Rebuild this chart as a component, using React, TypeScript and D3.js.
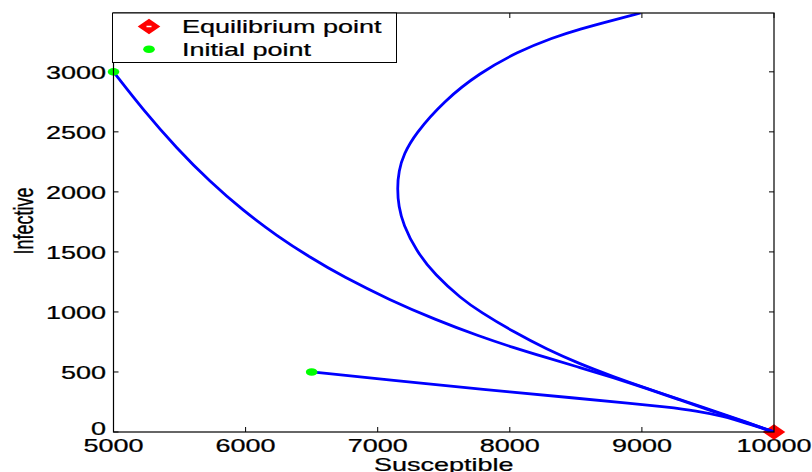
import React from 'react';
import * as d3 from 'd3';

// trajectories (Susceptible, Infective)
const pathAS = [5000, 5223, 5481, 5731, 5980, 6238, 6488, 6737, 7093, 7434, 7775, 8024, 8281, 8531, 8781, 9038, 9288, 9538, 9795, 10000];
const pathAI = [3000, 2685, 2360, 2084, 1845, 1633, 1454, 1294, 1099, 937, 795, 704, 618, 537, 453, 361, 267, 172, 78, 0];

const pathBS = [8990, 8786, 8535, 8325, 8061, 7771, 7503, 7280, 7198, 7159, 7148, 7159, 7192, 7292, 7432, 7635, 7774, 8026, 8279, 8531, 8784, 9036, 9288, 9541, 9793, 10000];
const pathBI = [3490, 3432, 3358, 3285, 3168, 2991, 2760, 2479, 2315, 2177, 2026, 1877, 1732, 1507, 1310, 1109, 1002, 835, 690, 567, 461, 363, 271, 177, 82, 0];

const pathCS = [6500, 7169, 7774, 8531, 8910, 9175, 9417, 9614, 9795, 10000];
const pathCI = [500, 425, 356, 279, 240, 209, 176, 132, 72, 0];

const initialPoints = [[5000, 3000], [6500, 500]];
const equilibrium = [10000, 0];

const xTicks = [5000, 6000, 7000, 8000, 9000, 10000];
const yTicks = [0, 500, 1000, 1500, 2000, 2500, 3000];

const W = 812;
const H = 472;
const left = 113.5, right = 774, top = 13, bottom = 432;
const font = '"Liberation Sans", Arial, Helvetica, sans-serif';
const SX = 1.5; // horizontal stretch of the original image

const x = d3.scaleLinear().domain([5000, 10000]).range([left, right]);
const y = d3.scaleLinear().domain([0, 3490]).range([bottom, top]);

const line = d3.line<number[]>()
  .x(d => x(d[0]))
  .y(d => y(d[1]))
  .curve(d3.curveBasis);

const zip = (s: number[], i: number[]) => s.map((v, k) => [v, i[k]]);
const paths = [zip(pathAS, pathAI), zip(pathBS, pathBI), zip(pathCS, pathCI)];

const Txt = ({ x: tx, y: ty, anchor = 'start', children, rotate = false }: any) => (
  <text
    transform={`translate(${tx},${ty}) scale(${SX},1)${rotate ? ' rotate(-90)' : ''}`}
    textAnchor={anchor}
    fontFamily={font}
    fontSize={18}
    fill="#000"
    stroke="#000"
    strokeWidth={0.25}
  >
    {children}
  </text>
);

const Diamond = ({ cx, cy, dash = false }: any) => (
  <g>
    <path d={`M${cx - 11.3},${cy} L${cx},${cy - 7.8} L${cx + 11.3},${cy} L${cx},${cy + 7.8} Z`} fill="#ff0000" />
    {dash && <line x1={cx - 2.5} x2={cx + 2.5} y1={cy} y2={cy} stroke="#fff" strokeWidth={1.5} />}
  </g>
);

export default function App() {
  const tl = 5;
  return (
    <svg width={W} height={H} style={{ position: 'absolute', left: 0, top: 0, background: '#fff' }}>
      <defs>
        <clipPath id="plot">
          <rect x={left} y={top} width={right - left} height={bottom - top} />
        </clipPath>
      </defs>
      <rect width={W} height={H} fill="#fff" />

      {/* ticks */}
      {xTicks.map(t => (
        <g key={'x' + t}>
          <line x1={x(t)} x2={x(t)} y1={bottom} y2={bottom - tl} stroke="#000" />
          <line x1={x(t)} x2={x(t)} y1={top} y2={top + tl} stroke="#000" />
          <Txt x={x(t)} y={452} anchor="middle">{t}</Txt>
        </g>
      ))}
      {yTicks.map(t => (
        <g key={'y' + t}>
          <line x1={left} x2={left + tl} y1={y(t)} y2={y(t)} stroke="#000" />
          <line x1={right} x2={right - tl} y1={y(t)} y2={y(t)} stroke="#000" />
          <Txt x={106} y={t === 0 ? y(t) + 3 : y(t) + 7} anchor="end">{t}</Txt>
        </g>
      ))}

      <Diamond cx={x(equilibrium[0])} cy={y(equilibrium[1])} />

      <g clipPath="url(#plot)">
        {paths.map((p, k) => (
          <path key={k} d={line(p) || ''} fill="none" stroke="#0000ff" strokeWidth={2.8} />
        ))}
      </g>

      {initialPoints.map((p, k) => (
        <ellipse key={k} cx={x(p[0])} cy={y(p[1])} rx={5.8} ry={3.8} fill="#00ff00" />
      ))}

      {/* axes box */}
      <rect x={left} y={top} width={right - left} height={bottom - top} fill="none" stroke="#000" strokeWidth={1.2} />

      {/* axis labels */}
      <Txt x={(left + right) / 2} y={470.5} anchor="middle">Susceptible</Txt>
      <Txt x={33} y={221} anchor="middle" rotate>Infective</Txt>

      {/* legend */}
      <rect x={112.5} y={13} width={284} height={49.5} fill="#fff" stroke="#000" strokeWidth={1} />
      <Diamond cx={149} cy={26.5} dash />
      <Txt x={182} y={33.3}>Equilibrium point</Txt>
      <ellipse cx={149} cy={49.3} rx={5.8} ry={3.8} fill="#00ff00" />
      <Txt x={182} y={55.7}>Initial point</Txt>
    </svg>
  );
}
